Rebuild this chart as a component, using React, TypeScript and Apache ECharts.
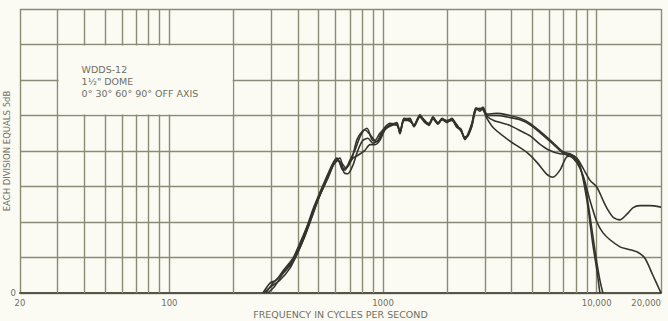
import React, { useEffect, useRef } from "react";
import * as echarts from "echarts";

// ---- axes / annotation data ----
const xMin = 20;
const xMax = 20000;
const xTickLabels: Record<number, string> = {
  20: "20",
  100: "100",
  1000: "1000",
  10000: "10,000",
  20000: "20,000",
};
const minorFreqs = [
  30, 40, 50, 60, 70, 80, 90,
  200, 300, 400, 500, 600, 700, 800, 900,
  2000, 3000, 4000, 5000, 6000, 7000, 8000, 9000,
];
const yMin = 0;
const yMax = 40;
const yStep = 5;
const yName = "EACH DIVISION EQUALS 5dB";
const xName = "FREQUENCY IN CYCLES PER SECOND";
const boxLines = ["WDDS-12", '1½" DOME', "0° 30° 60° 90° OFF AXIS"];
const boxCorner1: [number, number] = [30, 35];
const boxCorner2: [number, number] = [200, 25];

// ---- response curves: [frequency Hz, dB] ----
const curve0deg: [number, number][] = [
  [274, 0], [296, 1.4], [316, 1.8], [340, 3.1], [379, 4.9], [408, 7.0], [441, 9.4],
  [470, 11.8], [507, 14.2], [547, 16.5], [583, 18.3], [609, 19.0], [636, 18.0],
  [664, 17.3], [700, 18.7], [739, 20.1], [780, 22.0], [823, 23.0], [869, 22.3],
  [917, 21.5], [967, 22.5], [1021, 23.2], [1077, 23.7], [1162, 23.8], [1200, 22.6],
  [1253, 24.6], [1336, 24.4], [1396, 23.6], [1488, 25.1], [1570, 24.1], [1640, 23.8],
  [1713, 24.8], [1808, 23.9], [1888, 24.6], [1991, 24.2], [2102, 24.6], [2218, 23.5],
  [2316, 23.0], [2416, 21.8], [2497, 22.3], [2606, 23.8], [2722, 26.1], [2842, 25.8],
  [2936, 26.2], [3064, 25.2], [3400, 25.3], [3800, 25.1], [4375, 24.6], [4875, 23.9],
  [5423, 22.8], [6238, 21.2], [6950, 19.9], [7499, 19.6], [8072, 19.0], [8630, 17.6],
  [9290, 15.9], [10024, 14.9], [10690, 13.1], [11286, 11.7], [11914, 10.7],
  [12854, 10.3], [13852, 11.1], [14760, 12.0], [15924, 12.3], [17744, 12.3], [20000, 12.1],
];
const curve30deg: [number, number][] = [
  [283, 0], [306, 1.4], [329, 2.4], [367, 4.1], [400, 6.1], [431, 8.5], [465, 11.1],
  [507, 13.8], [553, 16.2], [596, 18.5], [629, 19.0], [656, 17.0], [685, 16.8],
  [723, 18.0], [763, 20.1], [805, 21.5], [850, 21.8], [897, 21.1], [947, 21.5],
  [1000, 23.0], [1077, 23.9], [1162, 23.6], [1200, 22.8], [1253, 24.4], [1336, 24.6],
  [1396, 23.4], [1488, 24.9], [1570, 24.3], [1640, 23.6], [1713, 24.6], [1808, 24.0],
  [1888, 24.4], [1991, 24.3], [2102, 24.4], [2218, 23.7], [2316, 22.8], [2416, 22.0],
  [2497, 22.1], [2606, 23.6], [2722, 25.8], [2842, 26.0], [2936, 25.9], [3064, 24.9],
  [3300, 24.3], [3850, 23.7], [4300, 23.0], [4900, 22.1], [5400, 21.0], [6000, 20.1],
  [6730, 19.6], [7499, 19.5], [8072, 18.5], [8630, 16.6], [9290, 13.1], [10024, 10.0],
  [10690, 8.5], [11536, 7.5], [12854, 6.5], [13852, 6.2], [15420, 5.8], [16818, 4.9],
  [18324, 2.5], [20000, 0],
];
const curve60deg: [number, number][] = [
  [289, 0], [312, 1.0], [340, 2.7], [379, 4.4], [408, 6.3], [441, 8.9], [480, 12.0],
  [518, 14.5], [565, 17.0], [602, 18.7], [636, 18.4], [671, 17.6], [716, 19.0],
  [755, 21.6], [797, 22.7], [841, 23.2], [888, 21.6], [938, 21.3], [1000, 22.7],
  [1077, 23.6], [1162, 24.0], [1200, 22.4], [1253, 24.5], [1336, 24.2], [1396, 23.7],
  [1488, 25.0], [1570, 24.2], [1640, 23.9], [1713, 24.7], [1808, 23.8], [1888, 24.5],
  [1991, 24.0], [2102, 24.5], [2218, 23.4], [2316, 23.1], [2416, 21.6], [2497, 22.4],
  [2606, 23.9], [2722, 26.0], [2842, 25.6], [2936, 26.1], [3064, 25.0], [3400, 25.0],
  [3800, 24.8], [4375, 24.4], [4875, 23.7], [5423, 22.6], [6238, 21.0], [6950, 19.7],
  [7745, 19.0], [8340, 17.6], [8812, 15.2], [9290, 11.0], [9812, 6.0], [10352, 1.8],
  [10690, 0],
];
const curve90deg: [number, number][] = [
  [277, 0], [299, 0.9], [329, 1.8], [367, 3.5], [400, 5.8], [431, 8.0], [465, 10.7],
  [501, 13.4], [541, 15.8], [583, 17.9], [616, 18.7], [649, 17.3], [685, 18.0],
  [723, 19.0], [763, 19.4], [823, 20.1], [869, 20.9], [917, 20.9], [967, 21.5],
  [1021, 23.0], [1077, 23.5], [1162, 23.7], [1200, 22.5], [1253, 24.3], [1336, 24.3],
  [1396, 23.5], [1488, 24.8], [1570, 24.0], [1640, 23.7], [1713, 24.5], [1808, 23.8],
  [1888, 24.4], [1991, 24.1], [2102, 24.3], [2218, 23.3], [2316, 22.9], [2416, 21.7],
  [2497, 22.2], [2606, 23.5], [2722, 25.9], [2842, 25.9], [2936, 25.8], [3064, 24.6],
  [3300, 23.2], [3926, 21.4], [4714, 19.8], [5252, 18.4], [5848, 16.7], [6238, 16.3],
  [6730, 17.3], [7262, 19.2], [7745, 19.3], [8340, 18.0], [8996, 13.1], [9596, 6.8],
  [10024, 3.2], [10352, 0],
];

const seriesList: { name: string; data: [number, number][] }[] = [
  { name: "0°", data: curve0deg },
  { name: "30°", data: curve30deg },
  { name: "60°", data: curve60deg },
  { name: "90°", data: curve90deg },
];

const BG = "#fbfbf4";
const GRID = "#8a8a76";
const INK = "#34342c";
const TEXT = "#6f6f62";
const FONT = "'DejaVu Sans', 'Noto Sans', sans-serif";

export default function App() {
  const ref = useRef<HTMLDivElement>(null);

  useEffect(() => {
    if (!ref.current) return;
    const chart = echarts.init(ref.current, undefined, { renderer: "svg" });
    chart.setOption({
      animation: false,
      backgroundColor: BG,
      grid: {
        left: 20,
        right: 7,
        top: 9,
        bottom: 28,
        containLabel: false,
        outerBoundsMode: "none",
      },
      xAxis: {
        type: "log",
        logBase: 10,
        min: xMin,
        max: xMax,
        name: xName,
        nameLocation: "middle",
        nameGap: 16,
        nameMoveOverlap: false,
        nameTextStyle: { color: TEXT, fontSize: 9.5, fontFamily: FONT },
        axisLine: { show: true, lineStyle: { color: "#55554a", width: 2 } },
        axisTick: { show: false },
        axisLabel: {
          color: TEXT,
          fontSize: 8.5,
          fontFamily: FONT,
          margin: 5,
          showMinLabel: true,
          showMaxLabel: true,
          hideOverlap: false,
          alignMaxLabel: "right",
          formatter: (v: number) => {
            const k = Math.round(v);
            return xTickLabels[k] ?? "";
          },
        },
        splitLine: { show: true, lineStyle: { color: GRID, width: 1.4 } },
      },
      yAxis: {
        type: "value",
        min: yMin,
        max: yMax,
        interval: yStep,
        name: yName,
        nameLocation: "middle",
        nameRotate: 90,
        nameGap: 9,
        nameMoveOverlap: false,
        nameTextStyle: { color: TEXT, fontSize: 8.5, fontFamily: FONT },
        axisLine: { show: false },
        axisTick: { show: false },
        axisLabel: {
          color: TEXT,
          fontSize: 8.5,
          fontFamily: FONT,
          margin: 4,
          formatter: (v: number) => (v === 0 ? "0" : ""),
        },
        splitLine: { show: true, lineStyle: { color: GRID, width: 1.4 } },
      },
      series: [
        {
          type: "line",
          name: "grid",
          data: [],
          silent: true,
          z: 1,
          markLine: {
            silent: true,
            symbol: ["none", "none"],
            label: { show: false },
            lineStyle: { color: GRID, width: 1.4, type: "solid" },
            data: minorFreqs.map((f) => ({ xAxis: f })),
          },
        },
        ...seriesList.map((s) => ({
          type: "line",
          name: s.name,
          data: s.data,
          showSymbol: false,
          smooth: 0.25,
          z: 5,
          lineStyle: { color: INK, width: 1.6 },
        })),
      ],
    });

    const p1 = chart.convertToPixel({ xAxisIndex: 0, yAxisIndex: 0 }, boxCorner1) as number[];
    const p2 = chart.convertToPixel({ xAxisIndex: 0, yAxisIndex: 0 }, boxCorner2) as number[];
    const bx = p1[0] + 1;
    const by = p1[1] + 1;
    const bw = p2[0] - p1[0] - 2;
    const bh = p2[1] - p1[1] - 2;
    chart.setOption({
      graphic: [
        {
          type: "rect",
          z: 50,
          shape: { x: bx, y: by, width: bw, height: bh },
          style: { fill: BG },
          silent: true,
        },
        ...boxLines.map((t, i) => ({
          type: "text",
          z: 51,
          x: bx + 23,
          y: by + 24 + i * 12,
          style: {
            text: t,
            fill: TEXT,
            fontSize: 9.5,
            fontFamily: FONT,
            textVerticalAlign: "middle",
          },
        })),
      ],
    });

    return () => chart.dispose();
  }, []);

  return (
    <div
      ref={ref}
      style={{ position: "fixed", left: 0, top: 0, width: 668, height: 321 }}
    />
  );
}
